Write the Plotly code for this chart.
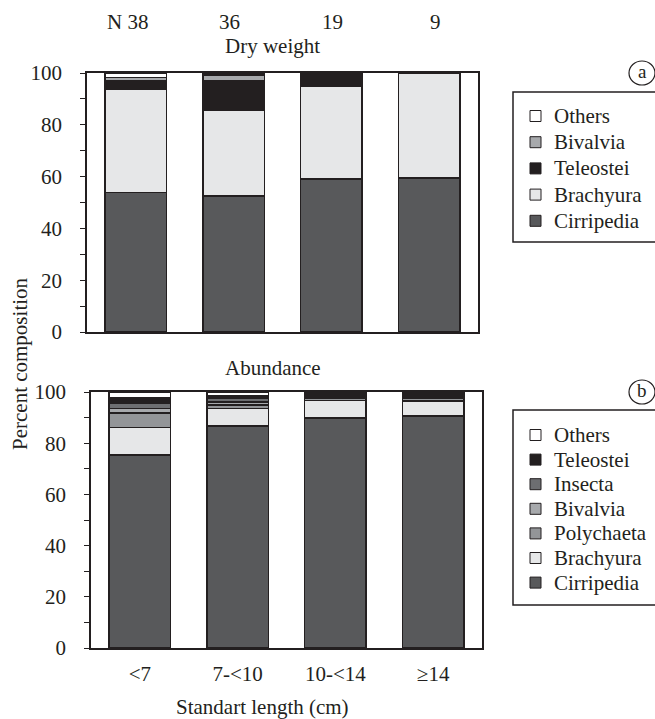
import plotly.graph_objects as go

W, H = 655, 719

size_classes = ["<7", "7-<10", "10-<14", "≥14"]
n_fish = ["N 38", "36", "19", "9"]

# Dry weight (%)
dw_cirripedia = [53.8, 52.5, 59.1, 59.5]
dw_brachyura = [40.0, 33.0, 35.7, 40.5]
dw_teleostei = [3.4, 11.5, 4.5, 0.0]
dw_bivalvia = [1.0, 2.2, 0.7, 0.0]
dw_others = [1.8, 0.8, 0.0, 0.0]

# Abundance (%)
ab_cirripedia = [75.3, 86.8, 89.9, 90.7]
ab_brachyura = [10.9, 6.7, 6.7, 5.8]
ab_polychaeta = [5.6, 1.5, 0.8, 0.9]
ab_bivalvia = [1.8, 1.0, 0.7, 0.7]
ab_insecta = [2.2, 1.5, 0.6, 0.7]
ab_teleostei = [1.8, 1.0, 0.7, 0.5]
ab_others = [2.4, 1.5, 0.6, 0.7]

FONT = "Liberation Serif, Times New Roman, serif"
INK = "#231f20"
FS = 21

top_series = [
    ("Cirripedia", dw_cirripedia, "#58595b"),
    ("Brachyura", dw_brachyura, "#e6e7e8"),
    ("Teleostei", dw_teleostei, "#231f20"),
    ("Bivalvia", dw_bivalvia, "#a7a9ac"),
    ("Others", dw_others, "#ffffff"),
]
bot_series = [
    ("Cirripedia", ab_cirripedia, "#58595b"),
    ("Brachyura", ab_brachyura, "#e6e7e8"),
    ("Polychaeta", ab_polychaeta, "#939598"),
    ("Bivalvia", ab_bivalvia, "#a7a9ac"),
    ("Insecta", ab_insecta, "#6d6e71"),
    ("Teleostei", ab_teleostei, "#231f20"),
    ("Others", ab_others, "#ffffff"),
]

fig = go.Figure()
for name, vals, col in top_series:
    fig.add_trace(go.Bar(x=size_classes, y=vals, name=name, xaxis="x", yaxis="y",
                         marker=dict(color=col, line=dict(color=INK, width=1.5)),
                         width=0.63, showlegend=False))
for name, vals, col in bot_series:
    fig.add_trace(go.Bar(x=size_classes, y=vals, name=name, xaxis="x2", yaxis="y2",
                         marker=dict(color=col, line=dict(color=INK, width=1.5)),
                         width=0.63, showlegend=False))

def px_x(p):
    return p / W

def px_y(p):
    return 1 - p / H

yax = dict(range=[0, 100], tickvals=[0, 20, 40, 60, 80, 100], ticks="outside", ticklen=5,
           tickwidth=1.2, tickcolor=INK, showline=True, linecolor=INK, linewidth=1.5,
           mirror=True, showgrid=False, zeroline=False, automargin=False,
           minor=dict(dtick=10, ticks="outside", ticklen=5, tickwidth=1.2, tickcolor=INK, showgrid=False),
           tickfont=dict(family=FONT, size=FS, color=INK), ticklabelstandoff=14)
xax = dict(range=[-0.5, 3.5], type="category", showline=True, linecolor=INK, linewidth=1.5,
           mirror=True, showgrid=False, zeroline=False, ticks="", automargin=False,
           tickfont=dict(family=FONT, size=FS, color=INK))

fig.update_layout(
    template="none",
    width=W, height=H, margin=dict(l=0, r=0, t=0, b=0, autoexpand=False),
    paper_bgcolor="white", plot_bgcolor="white", barmode="stack",
    showlegend=False,
    xaxis=dict(xax, domain=[px_x(87), px_x(478)], anchor="y", showticklabels=False),
    yaxis=dict(yax, domain=[px_y(332), px_y(73)], anchor="x"),
    xaxis2=dict(xax, domain=[px_x(91), px_x(482)], anchor="y2", showticklabels=True,
                ticklabelstandoff=6),
    yaxis2=dict(yax, domain=[px_y(648), px_y(392)], anchor="x2"),
)

txt = dict(family=FONT, size=FS, color=INK)
n_shift = [-8, -4, 1, 6]
annots = []
shapes = []
for i, lab in enumerate(n_fish):
    annots.append(dict(x=size_classes[i], y=px_y(22), xref="x", yref="paper", yanchor="middle",
                       text=lab, showarrow=False, xshift=n_shift[i], font=txt))
annots += [
    dict(x=px_x(272), y=px_y(46), xref="paper", yref="paper", text="Dry weight",
         yanchor="middle", showarrow=False, font=txt),
    dict(x=px_x(273), y=px_y(368), xref="paper", yref="paper", text="Abundance",
         yanchor="middle", showarrow=False, font=txt),
    dict(x=px_x(262), y=px_y(707), xref="paper", yref="paper",
         text="Standart length (cm)", yanchor="middle", showarrow=False, font=txt),
    dict(x=px_x(20), y=px_y(364), xref="paper", yref="paper", text="Percent composition",
         textangle=-90, xanchor="center", yanchor="middle", showarrow=False, font=txt),
]
for lab, cy in (("a", 73), ("b", 392)):
    annots.append(dict(x=px_x(642), y=px_y(cy), xref="paper", yref="paper", text=lab,
                       showarrow=False, xanchor="center", yanchor="middle", yshift=2,
                       font=dict(family=FONT, size=19, color=INK)))
    shapes.append(dict(type="circle", xref="paper", yref="paper",
                       x0=px_x(629), x1=px_x(655), y0=px_y(cy + 12), y1=px_y(cy - 12),
                       line=dict(color=INK, width=1.2)))

# legends (box, swatches, labels) built from the series lists
def add_legend(series, top, bottom, first_cy, step):
    shapes.append(dict(type="rect", xref="paper", yref="paper",
                       x0=px_x(513), x1=px_x(658), y0=px_y(bottom), y1=px_y(top),
                       line=dict(color=INK, width=1.5), fillcolor="white", layer="above"))
    for i, (name, vals, col) in enumerate(reversed(series)):
        cy = first_cy + i * step
        shapes.append(dict(type="rect", xref="paper", yref="paper",
                           x0=px_x(530), x1=px_x(541), y0=px_y(cy + 5.5), y1=px_y(cy - 5.5),
                           line=dict(color=INK, width=1), fillcolor=col, layer="above"))
        annots.append(dict(x=px_x(552), y=px_y(cy), xref="paper", yref="paper", text=name,
                           xanchor="left", yanchor="middle", showarrow=False, font=txt))

add_legend(top_series, 92, 242, 116, 26.2)
add_legend(bot_series, 410, 605, 435, 24.6)

fig.update_layout(annotations=annots, shapes=shapes)

fig.write_html("out.html")
